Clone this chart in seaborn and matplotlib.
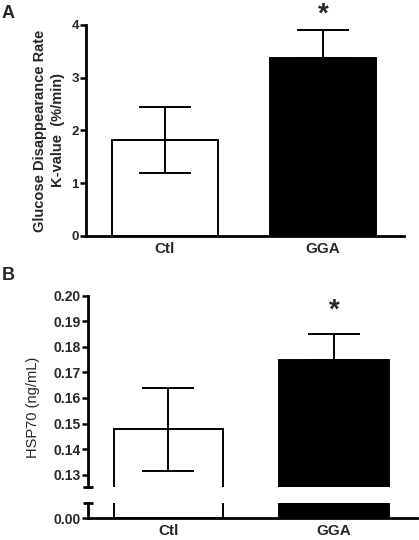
import numpy as np
import pandas as pd
import matplotlib
matplotlib.use("Agg")
import matplotlib.pyplot as plt
import seaborn as sns

# data
groups = ["Ctl", "GGA"]
k_mean = [1.82, 3.38]
k_err_low = [0.63, 0.0]
k_err_high = [0.63, 0.53]
hsp_mean = [0.1477, 0.175]
hsp_err_low = [0.0163, 0.0]
hsp_err_high = [0.0163, 0.010]
bar_colors = ["white", "black"]

sns.set_theme(style="ticks")
plt.rcParams["font.family"] = ["Liberation Sans", "DejaVu Sans"]

fig = plt.figure(figsize=(4.19, 5.40), dpi=100)

def style_axis(ax, lw=2.0):
    for s in ["top", "right"]:
        ax.spines[s].set_visible(False)
    for s in ["left", "bottom"]:
        ax.spines[s].set_linewidth(lw)
        ax.spines[s].set_color("black")
    ax.tick_params(axis="y", direction="out", length=4, width=1.8, color="black",
                   labelsize=10, pad=1)
    ax.tick_params(axis="x", length=0, labelsize=11, pad=4)

def draw_bars(ax, means, width):
    df = pd.DataFrame({"group": groups, "value": means})
    sns.barplot(data=df, x="group", y="value", hue="group", palette=bar_colors,
                edgecolor="black", linewidth=1.4, width=width, errorbar=None,
                legend=False, ax=ax)
    return df

# ---- Panel A
axA = fig.add_axes([0.205, 0.563, 0.759, 0.391])
draw_bars(axA, k_mean, 0.67)
axA.errorbar([0, 1], k_mean, yerr=[k_err_low, k_err_high], fmt="none",
             ecolor="black", elinewidth=1.4, capsize=19, capthick=1.4, zorder=1)
axA.set_ylim(0, 4)
axA.set_xlim(-0.5, 1.51)
axA.set_xlabel("")
axA.set_ylabel("Glucose Disappearance Rate\nK-value  (%/min)", fontsize=10.5,
               fontweight="bold", linespacing=1.3, labelpad=5)
style_axis(axA)
axA.set_yticks([0, 1, 2, 3, 4])
axA.set_yticklabels(["0", "1", "2", "3", "4"], fontweight="bold", fontsize=9.5)
axA.set_xticks([0, 1])
axA.set_xticklabels(groups, fontweight="bold", fontsize=11)
axA.text(1, 4.2, "*", ha="center", va="center", fontsize=20, fontweight="bold",
         clip_on=False)
fig.text(0.004, 0.975, "A", fontsize=13, fontweight="bold", va="center")

# ---- Panel B (broken axis)
axB = fig.add_axes([0.21, 0.0987, 0.785, 0.3537])
axB2 = fig.add_axes([0.21, 0.0402, 0.785, 0.0283])
for ax in (axB, axB2):
    draw_bars(ax, hsp_mean, 0.66)
    ax.set_xlim(-0.486, 1.50)
    ax.set_xlabel("")
    ax.set_ylabel("")
axB.errorbar([0, 1], hsp_mean, yerr=[hsp_err_low, hsp_err_high], fmt="none",
             ecolor="black", elinewidth=1.4, capsize=19, capthick=1.4, zorder=1)
axB.set_ylim(0.1253, 0.20)
style_axis(axB)
axB.spines["bottom"].set_visible(False)
axB.set_xticks([])
hsp_ticks = [0.13, 0.14, 0.15, 0.16, 0.17, 0.18, 0.19, 0.20]
axB.set_yticks(hsp_ticks)
axB.set_yticklabels([f"{t:.2f}" for t in hsp_ticks], fontweight="bold", fontsize=10)

axB2.set_ylim(0, 0.006)
style_axis(axB2)
axB2.set_yticks([0.0])
axB2.set_yticklabels(["0.00"], fontweight="bold", fontsize=10)
axB2.set_xticks([0, 1])
axB2.set_xticklabels(groups, fontweight="bold", fontsize=11)

# caps at the axis break
axB.plot([0], [0], marker="_", markersize=7, mew=2, color="black",
         transform=axB.transAxes, clip_on=False)
axB2.plot([0], [1], marker="_", markersize=7, mew=2, color="black",
          transform=axB2.transAxes, clip_on=False)

axB.text(1, 0.1942, "*", ha="center", va="center", fontsize=20, fontweight="bold")
fig.text(0.079, 0.246, "HSP70 (ng/mL)", rotation=90, fontsize=10.5,
         ha="center", va="center")
fig.text(0.004, 0.49, "B", fontsize=13, fontweight="bold", va="center")

fig.savefig("out.png", dpi=100)
